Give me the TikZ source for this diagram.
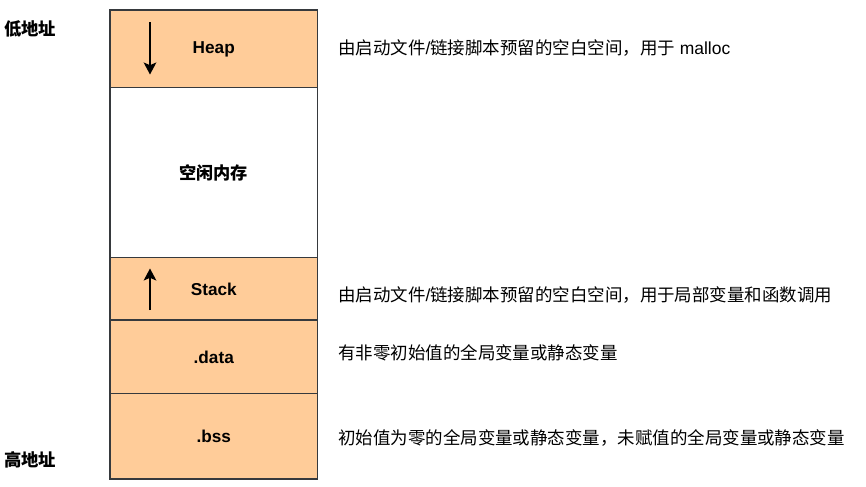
\documentclass[tikz,border=0pt]{standalone}
\usepackage{fontspec}
\setmainfont{Liberation Sans}
\newfontfamily\cjk{Noto Sans CJK SC}
\usetikzlibrary{arrows.meta,positioning}
\definecolor{cSeg}{HTML}{FFCC99}
\definecolor{cEdge}{HTML}{36393D}
\definecolor{cInk}{HTML}{000000}
\tikzset{
  seg/.style={draw=cEdge,fill=#1,line width=1pt,minimum width=155.6pt,inner sep=0pt,outer sep=0pt,font=\fontsize{12.9}{15}\selectfont\bfseries,text=cInk},
  seg/.default=cSeg,
  desc/.style={anchor=west,inner sep=0pt,font=\fontsize{13.1}{15}\selectfont\cjk,text=cInk},
  side/.style={anchor=west,inner sep=0pt,font=\fontsize{13}{15}\selectfont\cjk\bfseries,text=cInk},
  growarr/.style={-{Stealth[length=9pt,width=9.5pt,inset=2pt]},line width=1pt,color=cInk},
}

\begin{document}
\begin{tikzpicture}[x=0.75pt,y=-0.75pt]
    \useasboundingbox (0,0) rectangle (866,486);
    % memory layout, low address on top
    \node[seg,minimum height=58.3pt,anchor=north] (heap) at (213.75,10) {Heap};
    \node[seg=white,minimum height=127.5pt,below=0pt of heap] (free) {\cjk 空闲内存};
    \node[seg,minimum height=46.7pt,below=0pt of free] (stack) {Stack};
    \node[seg,minimum height=55.3pt,below=0pt of stack] (data) {.data};
    \node[seg,minimum height=64pt,below=0pt of data] (bss) {.bss};
    % growth directions
    \coordinate (heapA) at (150,22);
    \coordinate (heapB) at (150,74.5);
    \coordinate (stackA) at (150,310);
    \coordinate (stackB) at (150,268.5);
    \draw[growarr] (heapA) -- (heapB);
    \draw[growarr] (stackA) -- (stackB);
    % address labels
    \node[side] (low) at (4,29) {低地址};
    \node[side] (high) at (4,460) {高地址};
    % notes
    \node[desc] (dheap) at (338,48) {由启动文件{\rmfamily/}链接脚本预留的空白空间，用于{\rmfamily\ malloc}};
    \node[desc] (dstack) at (338,295) {由启动文件{\rmfamily/}链接脚本预留的空白空间，用于局部变量和函数调用};
    \node[desc] (ddata) at (338,353) {有非零初始值的全局变量或静态变量};
    \node[desc] (dbss) at (338,438) {初始值为零的全局变量或静态变量，未赋值的全局变量或静态变量};
\end{tikzpicture}
\end{document}
